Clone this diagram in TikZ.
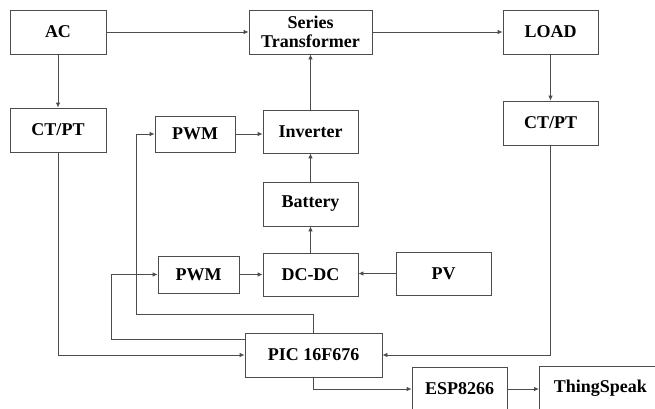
\documentclass[tikz,border=0pt]{standalone}
\usepackage{fontspec}
\setmainfont{Liberation Serif}
\usetikzlibrary{arrows.meta}
\begin{document}
\begin{tikzpicture}[x=1pt,y=-1pt,
  blk/.style={draw=black!70, line width=0.8pt, font=\bfseries\fontsize{18}{19.5}\selectfont, inner sep=0pt, align=center},
  arr/.style={-{Latex[length=5pt,width=4.5pt]}, line width=0.8pt, draw=black!70},
  ln/.style={line width=0.8pt, draw=black!70}]
\useasboundingbox (0,0) rectangle (655,408);
\clip (0,0) rectangle (655,408);
\node[blk, minimum width=96pt, minimum height=44pt] (AC) at (58,32) {AC};
\node[blk, minimum width=123pt, minimum height=44pt] (ST) at (310.5,32) {Series\\Transformer};
\node[blk, minimum width=95pt, minimum height=44pt] (LOAD) at (550.5,32) {LOAD};
\node[blk, minimum width=96pt, minimum height=44pt] (CTL) at (58,130) {CT/PT};
\node[blk, minimum width=95pt, minimum height=44pt] (CTR) at (550.5,123) {CT/PT};
\node[blk, minimum width=80pt, minimum height=36pt] (PWM1) at (195,134) {PWM};
\node[blk, minimum width=95pt, minimum height=43pt] (INV) at (310.5,131.5) {Inverter};
\node[blk, minimum width=95pt, minimum height=44pt] (BAT) at (310.5,204) {Battery};
\node[blk, minimum width=81pt, minimum height=37pt] (PWM2) at (198.5,274.5) {PWM};
\node[blk, minimum width=95pt, minimum height=43pt] (DC) at (310.5,274.5) {DC-DC};
\node[blk, minimum width=95pt, minimum height=43pt] (PV) at (443.5,273.5) {PV};
\node[blk, minimum width=137pt, minimum height=44pt] (PIC) at (313.5,355) {PIC 16F676};
\node[blk, minimum width=95pt, minimum height=44pt] (ESP) at (459.5,389) {ESP8266};
\node[blk, minimum width=160pt, minimum height=44pt, anchor=west] (TS) at (539,388) {\hspace*{-38pt}ThingSpeak};
\coordinate (k1) at (136,314);
\coordinate (k2) at (111,339);
\draw[arr] (AC.east) -- (ST.west);
\draw[arr] (ST.east) -- (LOAD.west);
\draw[arr] (AC.south) -- (CTL.north);
\draw[arr] (LOAD.south) -- (CTR.north);
\draw[arr] (INV.north) -- (ST.south);
\draw[arr] (PWM1.east) -- (PWM1.east -| INV.west);
\draw[arr] (BAT.north) -- (INV.south);
\draw[arr] (DC.north) -- (BAT.south);
\draw[arr] (PWM2.east) -- (PWM2.east -| DC.west);
\draw[arr] (PV.west) -- (PV.west -| DC.east);
\draw[arr] (CTL.south) |- (PIC.west);
\draw[arr] (CTR.south) |- (PIC.east);
\draw[arr] (PIC.north) |- (k1) |- (PWM1.west);
\draw[arr] (k2 -| PIC.west) -- (k2) |- (PWM2.west);
\draw[arr] (PIC.south) |- (ESP.west);
\draw[arr] (ESP.east) -- (ESP.east -| TS.west);
\end{tikzpicture}
\end{document}
